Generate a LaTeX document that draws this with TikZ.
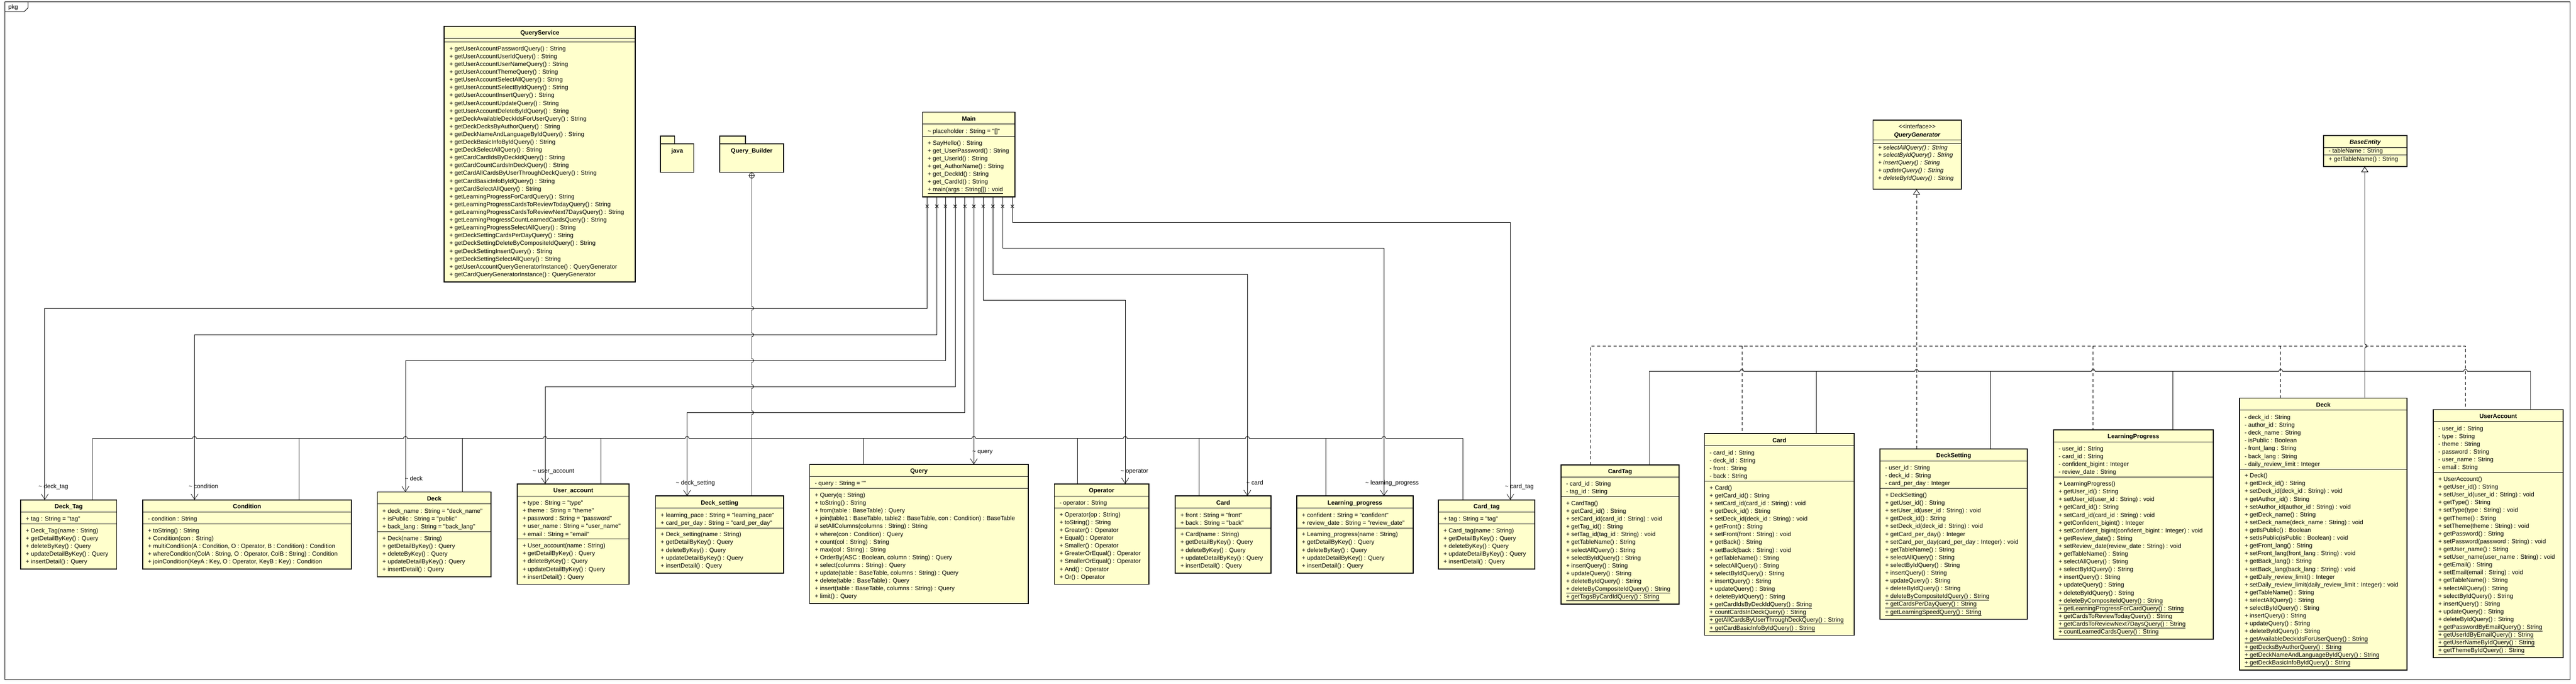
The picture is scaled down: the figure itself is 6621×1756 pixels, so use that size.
\documentclass[tikz,border=0pt]{standalone}
\usepackage{fontspec}
\newfontfamily\uf{Liberation Sans}
\usetikzlibrary{arrows.meta}
\definecolor{umlyellow}{RGB}{255,255,204}
\newcommand{\fl}{\rule{0pt}{14pt}}
\newcommand{\tld}{\textasciitilde{}}
\tikzset{
  clsbox/.style={draw, line width=2.5pt, fill=umlyellow, inner sep=0pt, outer sep=0pt},
  pkgbox/.style={draw, line width=2.5pt, fill=umlyellow, inner sep=0pt, outer sep=0pt},
  sepline/.style={line width=1.3pt},
  ttl/.style={font=\uf\fontsize{15.5}{20}\selectfont\bfseries, inner sep=0pt, anchor=base},
  txt/.style={font=\uf\fontsize{15.5}{20}\selectfont, inner sep=0pt, anchor=north west, align=left},
  lbl/.style={font=\uf\fontsize{15.5}{20}\selectfont, inner sep=0pt, anchor=base west},
  assoc/.style={line width=1pt, -{Straight Barb[length=14pt,width=18pt]}},
  contain/.style={line width=1.2pt},
  realiz/.style={line width=1.2pt, dash pattern=on 8pt off 6pt},
  gener/.style={line width=1.2pt},
  hollowtip/.style={-{Triangle[open,length=14pt,width=18pt]}},
}
% #1 name, #2 L, #3 R, #4 T, #5 title, #6 n attrs, #7 n methods, #8 attrs, #9 methods
\newcommand{\umlclass}[9]{%
  \pgfmathsetmacro{\cSepA}{#4+31}%
  \pgfmathsetmacro{\cSepB}{#6==0 ? #4+41 : #4+31+20*#6+11}%
  \pgfmathsetmacro{\cBot}{\cSepB+20*#7+16}%
  \node[clsbox, minimum width={#3-#2}, minimum height={\cBot-#4}] (#1) at ({(#2+#3)/2},{(#4+\cBot)/2}) {};
  \draw[sepline] (#2,\cSepA) -- (#3,\cSepA);
  \draw[sepline] (#2,\cSepB) -- (#3,\cSepB);
  \node[ttl] (#1-t) at ({(#2+#3)/2},{#4+22.5}) {#5};
  \ifnum#6>0 \node[txt] (#1-a) at ({#2+13},{#4+54-14}) {\fl #8};\fi
  \node[txt] (#1-m) at ({#2+13},{\cSepB+22-14}) {\fl #9};
}
\begin{document}
\begin{tikzpicture}[x=1pt,y=-1pt]
\useasboundingbox (0,0) rectangle (6621,1756);
% frame
\draw[line width=1pt] (13,4) rectangle (6606,1746);
\draw[line width=1pt] (13,30) -- (62,30) -- (72,20) -- (72,4);
\node[lbl] (pkgLabel) at (21,23) {pkg};

% packages
\node[pkgbox, minimum width=36, minimum height=20] (javaTab) at (1716,360) {};
\node[pkgbox, minimum width=85, minimum height=73] (javaPkg) at (1740.5,406.5) {};
\node[ttl] (javaText) at (1740.5,393) {java};
\node[pkgbox, minimum width=66, minimum height=20] (qbTab) at (1883,360) {};
\node[pkgbox, minimum width=164, minimum height=73] (qbPkg) at (1932,406.5) {};
\node[ttl] (qbText) at (1932,393) {Query\_Builder};

% QueryService
\umlclass{QueryService}{1142}{1633}{67}{QueryService}{0}{30}{}{%
+ getUserAccountPasswordQuery() : String\\
+ getUserAccountUserIdQuery() : String\\
+ getUserAccountUserNameQuery() : String\\
+ getUserAccountThemeQuery() : String\\
+ getUserAccountSelectAllQuery() : String\\
+ getUserAccountSelectByIdQuery() : String\\
+ getUserAccountInsertQuery() : String\\
+ getUserAccountUpdateQuery() : String\\
+ getUserAccountDeleteByIdQuery() : String\\
+ getDeckAvailableDeckIdsForUserQuery() : String\\
+ getDeckDecksByAuthorQuery() : String\\
+ getDeckNameAndLanguageByIdQuery() : String\\
+ getDeckBasicInfoByIdQuery() : String\\
+ getDeckSelectAllQuery() : String\\
+ getCardCardIdsByDeckIdQuery() : String\\
+ getCardCountCardsInDeckQuery() : String\\
+ getCardAllCardsByUserThroughDeckQuery() : String\\
+ getCardBasicInfoByIdQuery() : String\\
+ getCardSelectAllQuery() : String\\
+ getLearningProgressForCardQuery() : String\\
+ getLearningProgressCardsToReviewTodayQuery() : String\\
+ getLearningProgressCardsToReviewNext7DaysQuery() : String\\
+ getLearningProgressCountLearnedCardsQuery() : String\\
+ getLearningProgressSelectAllQuery() : String\\
+ getDeckSettingCardsPerDayQuery() : String\\
+ getDeckSettingDeleteByCompositeIdQuery() : String\\
+ getDeckSettingInsertQuery() : String\\
+ getDeckSettingSelectAllQuery() : String\\
+ getUserAccountQueryGeneratorInstance() : QueryGenerator\\
+ getCardQueryGeneratorInstance() : QueryGenerator}

% Main
\umlclass{Main}{2371}{2609}{288}{Main}{1}{7}{\tld\ placeholder : String = "[]"}{%
+ SayHello() : String\\
+ get\_UserPassword() : String\\
+ get\_UserId() : String\\
+ get\_AuthorName() : String\\
+ get\_DeckId() : String\\
+ get\_CardId() : String\\
\underline{+ main(args : String[]) : void}}

% QueryGenerator interface
\node[clsbox, minimum width=227, minimum height=178] (QueryGen) at (4927.5,397) {};
\draw[sepline] (4814,359) -- (5041,359);
\draw[sepline] (4814,369) -- (5041,369);
\node[ttl, font=\uf\fontsize{15.5}{20}\selectfont] (QueryGen-s) at (4927.5,331) {<<interface>>};
\node[ttl, font=\uf\fontsize{15.5}{20}\selectfont\bfseries\itshape] (QueryGen-t) at (4927.5,351) {QueryGenerator};
\node[txt, font=\uf\fontsize{15.5}{19.5}\selectfont\itshape] (QueryGen-m) at (4827,370) {\fl + selectAllQuery() : String\\
+ selectByIdQuery() : String\\
+ insertQuery() : String\\
+ updateQuery() : String\\
+ deleteByIdQuery() : String};

% BaseEntity
\node[clsbox, minimum width=214, minimum height=80] (BaseEntity) at (6079,388) {};
\draw[sepline] (5972,379) -- (6186,379);
\draw[sepline] (5972,398) -- (6186,398);
\node[ttl, font=\uf\fontsize{15.5}{20}\selectfont\bfseries\itshape] (BaseEntity-t) at (6079,370) {BaseEntity};
\node[txt] (BaseEntity-a) at (5985,379) {\fl - tableName : String};
\node[txt] (BaseEntity-m) at (5985,399) {\fl + getTableName() : String};

% bottom row (Query_Builder classes)
\umlclass{DeckTagQ}{53}{300}{1284}{Deck\_Tag}{1}{5}{+ tag : String = "tag"}{%
+ Deck\_Tag(name : String)\\
+ getDetailByKey() : Query\\
+ deleteByKey() : Query\\
+ updateDetailByKey() : Query\\
+ insertDetail() : Query}

\umlclass{ConditionQ}{367}{903}{1284}{Condition}{1}{5}{- condition : String}{%
+ toString() : String\\
+ Condition(con : String)\\
+ multiCondition(A : Condition, O : Operator, B : Condition) : Condition\\
+ whereCondition(ColA : String, O : Operator, ColB : String) : Condition\\
+ joinCondition(KeyA : Key, O : Operator, KeyB : Key) : Condition}

\umlclass{DeckQ}{970}{1262}{1264}{Deck}{3}{5}{%
+ deck\_name : String = "deck\_name"\\
+ isPublic : String = "public"\\
+ back\_lang : String = "back\_lang"}{%
+ Deck(name : String)\\
+ getDetailByKey() : Query\\
+ deleteByKey() : Query\\
+ updateDetailByKey() : Query\\
+ insertDetail() : Query}

\umlclass{UserAccountQ}{1330}{1617}{1243}{User\_account}{5}{5}{%
+ type : String = "type"\\
+ theme : String = "theme"\\
+ password : String = "password"\\
+ user\_name : String = "user\_name"\\
+ email : String = "email"}{%
+ User\_account(name : String)\\
+ getDetailByKey() : Query\\
+ deleteByKey() : Query\\
+ updateDetailByKey() : Query\\
+ insertDetail() : Query}

\umlclass{DeckSettingQ}{1685}{2014}{1274}{Deck\_setting}{2}{5}{%
+ learning\_pace : String = "learning\_pace"\\
+ card\_per\_day : String = "card\_per\_day"}{%
+ Deck\_setting(name : String)\\
+ getDetailByKey() : Query\\
+ deleteByKey() : Query\\
+ updateDetailByKey() : Query\\
+ insertDetail() : Query}

\umlclass{QueryQ}{2081}{2643}{1193}{Query}{1}{14}{- query : String = ""}{%
+ Query(q : String)\\
+ toString() : String\\
+ from(table : BaseTable) : Query\\
+ join(table1 : BaseTable, table2 : BaseTable, con : Condition) : BaseTable\\
\# setAllColumns(columns : String) : String\\
+ where(con : Condition) : Query\\
+ count(col : String) : String\\
+ max(col : String) : String\\
+ OrderBy(ASC : Boolean, column : String) : Query\\
+ select(columns : String) : Query\\
+ update(table : BaseTable, columns : String) : Query\\
+ delete(table : BaseTable) : Query\\
+ insert(table : BaseTable, columns : String) : Query\\
+ limit() : Query}

\umlclass{OperatorQ}{2710}{2953}{1243}{Operator}{1}{9}{- operator : String}{%
+ Operator(op : String)\\
+ toString() : String\\
+ Greater() : Operator\\
+ Equal() : Operator\\
+ Smaller() : Operator\\
+ GreaterOrEqual() : Operator\\
+ SmallerOrEqual() : Operator\\
+ And() : Operator\\
+ Or() : Operator}

\umlclass{CardQ}{3021}{3267}{1274}{Card}{2}{5}{%
+ front : String = "front"\\
+ back : String = "back"}{%
+ Card(name : String)\\
+ getDetailByKey() : Query\\
+ deleteByKey() : Query\\
+ updateDetailByKey() : Query\\
+ insertDetail() : Query}

\umlclass{LearningProgressQ}{3333}{3632}{1274}{Learning\_progress}{2}{5}{%
+ confident : String = "confident"\\
+ review\_date : String = "review\_date"}{%
+ Learning\_progress(name : String)\\
+ getDetailByKey() : Query\\
+ deleteByKey() : Query\\
+ updateDetailByKey() : Query\\
+ insertDetail() : Query}

\umlclass{CardTagQ}{3697}{3945}{1284}{Card\_tag}{1}{5}{+ tag : String = "tag"}{%
+ Card\_tag(name : String)\\
+ getDetailByKey() : Query\\
+ deleteByKey() : Query\\
+ updateDetailByKey() : Query\\
+ insertDetail() : Query}

% entity classes
\umlclass{CardTagE}{4012}{4316}{1194}{CardTag}{2}{13}{%
- card\_id : String\\
- tag\_id : String}{%
+ CardTag()\\
+ getCard\_id() : String\\
+ setCard\_id(card\_id : String) : void\\
+ getTag\_id() : String\\
+ setTag\_id(tag\_id : String) : void\\
+ getTableName() : String\\
+ selectAllQuery() : String\\
+ selectByIdQuery() : String\\
+ insertQuery() : String\\
+ updateQuery() : String\\
+ deleteByIdQuery() : String\\
\underline{+ deleteByCompositeIdQuery() : String}\\
\underline{+ getTagsByCardIdQuery() : String}}

\umlclass{CardE}{4381}{4766}{1114}{Card}{4}{19}{%
- card\_id : String\\
- deck\_id : String\\
- front : String\\
- back : String}{%
+ Card()\\
+ getCard\_id() : String\\
+ setCard\_id(card\_id : String) : void\\
+ getDeck\_id() : String\\
+ setDeck\_id(deck\_id : String) : void\\
+ getFront() : String\\
+ setFront(front : String) : void\\
+ getBack() : String\\
+ setBack(back : String) : void\\
+ getTableName() : String\\
+ selectAllQuery() : String\\
+ selectByIdQuery() : String\\
+ insertQuery() : String\\
+ updateQuery() : String\\
+ deleteByIdQuery() : String\\
\underline{+ getCardIdsByDeckIdQuery() : String}\\
\underline{+ countCardsInDeckQuery() : String}\\
\underline{+ getAllCardsByUserThroughDeckQuery() : String}\\
\underline{+ getCardBasicInfoByIdQuery() : String}}

\umlclass{DeckSettingE}{4832}{5211}{1153}{DeckSetting}{3}{16}{%
- user\_id : String\\
- deck\_id : String\\
- card\_per\_day : Integer}{%
+ DeckSetting()\\
+ getUser\_id() : String\\
+ setUser\_id(user\_id : String) : void\\
+ getDeck\_id() : String\\
+ setDeck\_id(deck\_id : String) : void\\
+ getCard\_per\_day() : Integer\\
+ setCard\_per\_day(card\_per\_day : Integer) : void\\
+ getTableName() : String\\
+ selectAllQuery() : String\\
+ selectByIdQuery() : String\\
+ insertQuery() : String\\
+ updateQuery() : String\\
+ deleteByIdQuery() : String\\
\underline{+ deleteByCompositeIdQuery() : String}\\
\underline{+ getCardsPerDayQuery() : String}\\
\underline{+ getLearningSpeedQuery() : String}}

\umlclass{LearningProgressE}{5278}{5689}{1104}{LearningProgress}{4}{20}{%
- user\_id : String\\
- card\_id : String\\
- confident\_bigint : Integer\\
- review\_date : String}{%
+ LearningProgress()\\
+ getUser\_id() : String\\
+ setUser\_id(user\_id : String) : void\\
+ getCard\_id() : String\\
+ setCard\_id(card\_id : String) : void\\
+ getConfident\_bigint() : Integer\\
+ setConfident\_bigint(confident\_bigint : Integer) : void\\
+ getReview\_date() : String\\
+ setReview\_date(review\_date : String) : void\\
+ getTableName() : String\\
+ selectAllQuery() : String\\
+ selectByIdQuery() : String\\
+ insertQuery() : String\\
+ updateQuery() : String\\
+ deleteByIdQuery() : String\\
\underline{+ deleteByCompositeIdQuery() : String}\\
\underline{+ getLearningProgressForCardQuery() : String}\\
\underline{+ getCardsToReviewTodayQuery() : String}\\
\underline{+ getCardsToReviewNext7DaysQuery() : String}\\
\underline{+ countLearnedCardsQuery() : String}}

\umlclass{DeckE}{5756}{6187}{1023}{Deck}{7}{25}{%
- deck\_id : String\\
- author\_id : String\\
- deck\_name : String\\
- isPublic : Boolean\\
- front\_lang : String\\
- back\_lang : String\\
- daily\_review\_limit : Integer}{%
+ Deck()\\
+ getDeck\_id() : String\\
+ setDeck\_id(deck\_id : String) : void\\
+ getAuthor\_id() : String\\
+ setAuthor\_id(author\_id : String) : void\\
+ getDeck\_name() : String\\
+ setDeck\_name(deck\_name : String) : void\\
+ getIsPublic() : Boolean\\
+ setIsPublic(isPublic : Boolean) : void\\
+ getFront\_lang() : String\\
+ setFront\_lang(front\_lang : String) : void\\
+ getBack\_lang() : String\\
+ setBack\_lang(back\_lang : String) : void\\
+ getDaily\_review\_limit() : Integer\\
+ setDaily\_review\_limit(daily\_review\_limit : Integer) : void\\
+ getTableName() : String\\
+ selectAllQuery() : String\\
+ selectByIdQuery() : String\\
+ insertQuery() : String\\
+ updateQuery() : String\\
+ deleteByIdQuery() : String\\
\underline{+ getAvailableDeckIdsForUserQuery() : String}\\
\underline{+ getDecksByAuthorQuery() : String}\\
\underline{+ getDeckNameAndLanguageByIdQuery() : String}\\
\underline{+ getDeckBasicInfoByIdQuery() : String}}

\umlclass{UserAccountE}{6254}{6588}{1052}{UserAccount}{6}{23}{%
- user\_id : String\\
- type : String\\
- theme : String\\
- password : String\\
- user\_name : String\\
- email : String}{%
+ UserAccount()\\
+ getUser\_id() : String\\
+ setUser\_id(user\_id : String) : void\\
+ getType() : String\\
+ setType(type : String) : void\\
+ getTheme() : String\\
+ setTheme(theme : String) : void\\
+ getPassword() : String\\
+ setPassword(password : String) : void\\
+ getUser\_name() : String\\
+ setUser\_name(user\_name : String) : void\\
+ getEmail() : String\\
+ setEmail(email : String) : void\\
+ getTableName() : String\\
+ selectAllQuery() : String\\
+ selectByIdQuery() : String\\
+ insertQuery() : String\\
+ updateQuery() : String\\
+ deleteByIdQuery() : String\\
\underline{+ getPasswordByEmailQuery() : String}\\
\underline{+ getUserIdByEmailQuery() : String}\\
\underline{+ getUserNameByIdQuery() : String}\\
\underline{+ getThemeByIdQuery() : String}}

% nesting symbol on Query_Builder
\node[draw, circle, line width=1pt, fill=white, minimum size=14pt, inner sep=0pt] (nest) at (1932,451) {};
\draw[line width=1pt] (nest.north) -- (nest.south) (nest.west) -- (nest.east);

% containment lines
\draw[contain] (nest.south) -- (1932,787) arc[start angle=270,end angle=450,radius=5]
  -- (1932,855) arc[start angle=270,end angle=450,radius=5]
  -- (1932,921) arc[start angle=270,end angle=450,radius=5]
  -- (1932,988) arc[start angle=270,end angle=450,radius=5]
  -- (1932,1055) arc[start angle=270,end angle=450,radius=5]
  -- (DeckSettingQ.north -| nest.south);
\draw[contain] (DeckTagQ.north -| 238,0) -- (238,1126)
  -- (495,1126) arc[start angle=180,end angle=360,radius=5]
  -- (1037,1126) arc[start angle=180,end angle=360,radius=5]
  -- (1396,1126) arc[start angle=180,end angle=360,radius=5]
  -- (1761,1126) arc[start angle=180,end angle=360,radius=5]
  -- (2498,1126) arc[start angle=180,end angle=360,radius=5]
  -- (2887,1126) arc[start angle=180,end angle=360,radius=5]
  -- (3201,1126) arc[start angle=180,end angle=360,radius=5]
  -- (3552,1126) arc[start angle=180,end angle=360,radius=5]
  -- (3760,1126) -- (CardTagQ.north -| 3760,0);
\draw[contain] (768,1126) -- (ConditionQ.north -| 768,0);
\draw[contain] (1189,1126) -- (DeckQ.north -| 1189,0);
\draw[contain] (1545,1126) -- (UserAccountQ.north -| 1545,0);
\draw[contain] (2220,1126) -- (QueryQ.north -| 2220,0);
\draw[contain] (2770,1126) -- (OperatorQ.north -| 2770,0);
\draw[contain] (3082,1126) -- (CardQ.north -| 3082,0);
\draw[contain] (3408,1126) -- (LearningProgressQ.north -| 3408,0);

% associations from Main
\draw[assoc] (Main.south -| 2383,0) |- (115,792) -- (DeckTagQ.north -| 115,0);
\draw[assoc] (Main.south -| 2408,0) |- (500,860) -- (ConditionQ.north -| 500,0);
\draw[assoc] (Main.south -| 2430,0) |- (1042,926) -- (DeckQ.north -| 1042,0);
\draw[assoc] (Main.south -| 2455,0) |- (1401,993) -- (UserAccountQ.north -| 1401,0);
\draw[assoc] (Main.south -| 2480,0) |- (1766,1060) -- (DeckSettingQ.north -| 1766,0);
\draw[assoc] (Main.south -| 2503,0) -- (QueryQ.north -| 2503,0);
\draw[assoc] (Main.south -| 2527,0) |- (2892,771) -- (OperatorQ.north -| 2892,0);
\draw[assoc] (Main.south -| 2552,0) |- (3206,705) -- (CardQ.north -| 3206,0);
\draw[assoc] (Main.south -| 2577,0) |- (3557,638) -- (LearningProgressQ.north -| 3557,0);
\draw[assoc] (Main.south -| 2602,0) |- (3882,571) -- (CardTagQ.north -| 3882,0);
\foreach \x in {2383,2408,2430,2455,2480,2503,2527,2552,2577,2602}
  \draw[line width=1pt] (\x-4,526) -- (\x+4,534) (\x-4,534) -- (\x+4,526);

% association labels
\node[lbl] (lDeckTag) at (99,1255) {\tld\ deck\_tag};
\node[lbl] (lCondition) at (485,1255) {\tld\ condition};
\node[lbl] (lDeck) at (1040,1235) {\tld\ deck};
\node[lbl] (lUserAccount) at (1369,1215) {\tld\ user\_account};
\node[lbl] (lDeckSetting) at (1737,1245) {\tld\ deck\_setting};
\node[lbl] (lQuery) at (2499,1165) {\tld\ query};
\node[lbl] (lOperator) at (2880,1215) {\tld\ operator};
\node[lbl] (lCard) at (3203,1245) {\tld\ card};
\node[lbl] (lLearning) at (3509,1245) {\tld\ learning\_progress};
\node[lbl] (lCardTag) at (3868,1255) {\tld\ card\_tag};

% realization (QueryGenerator)
\draw[realiz, hollowtip] (DeckSettingE.north -| 4926,0) -- (QueryGen.south -| 4926,0);
\draw[realiz] (CardTagE.north -| 4088,0) -- (4088,889) -- (6337,889) -- (UserAccountE.north -| 6337,0);
\draw[realiz] (4477,889) -- (CardE.north -| 4477,0);
\draw[realiz] (5380,889) -- (LearningProgressE.north -| 5380,0);
\draw[realiz] (5862,889) -- (DeckE.north -| 5862,0);

% generalization (BaseEntity)
\draw[gener, hollowtip] (DeckE.north -| 6078,0) -- (6078,894) arc[start angle=90,end angle=-90,radius=5] -- (BaseEntity.south -| 6078,0);
\draw[gener] (CardTagE.north -| 4239,0) -- (4239,954)
  -- (4472,954) arc[start angle=180,end angle=360,radius=5]
  -- (4921,954) arc[start angle=180,end angle=360,radius=5]
  -- (5375,954) arc[start angle=180,end angle=360,radius=5]
  -- (5857,954) arc[start angle=180,end angle=360,radius=5]
  -- (6332,954) arc[start angle=180,end angle=360,radius=5]
  -- (6504,954) -- (UserAccountE.north -| 6504,0);
\draw[gener] (4669,954) -- (CardE.north -| 4669,0);
\draw[gener] (5116,954) -- (DeckSettingE.north -| 5116,0);
\draw[gener] (5585,954) -- (LearningProgressE.north -| 5585,0);
\end{tikzpicture}
\end{document}
